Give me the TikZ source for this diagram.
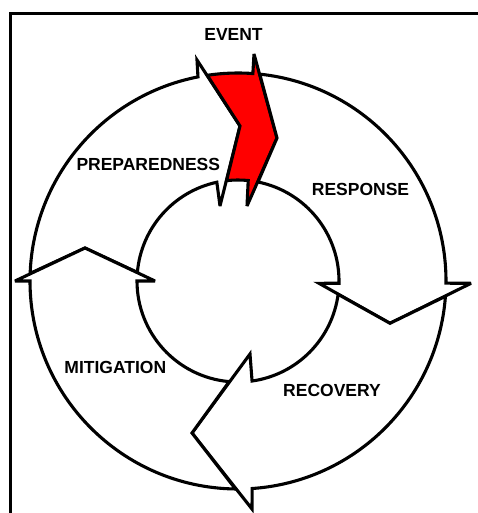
\documentclass[tikz,border=0pt]{standalone}
\usepackage{fontspec}
\setmainfont{Liberation Sans}
\usetikzlibrary{calc}
\begin{document}
\begin{tikzpicture}[x=1pt,y=-1pt,
  seg/.style={draw=black,line width=3.1pt,line join=miter,miter limit=4,fill=white},
  evt/.style={seg,fill=red},
  lbl/.style={font=\fontsize{17.5}{20}\selectfont\bfseries,inner sep=0pt,anchor=base}]
\useasboundingbox (0,0) rectangle (478,513);
\fill[white] (0,0) rectangle (478,513);
\draw[line width=3pt] (10,525) -- (10,14) -- (490,14);
\coordinate (C) at (238,281);
% head 1: preparedness (top left)
\coordinate (B1) at (197,60); \coordinate (A1) at (240,126); \coordinate (I1) at (220,206);
% head 2: event (top)
\coordinate (B2) at (254,54); \coordinate (A2) at (277,138); \coordinate (I2) at (247,206);
% head 3: response (right)
\coordinate (B3) at (471,283.3); \coordinate (A3) at (390,323.3); \coordinate (I3) at (319,283.3);
% head 4: recovery (bottom)
\coordinate (B4) at (252,509); \coordinate (A4) at (192,433); \coordinate (I4) at (250,354);
% head 5: mitigation (left)
\coordinate (B5) at (15,281); \coordinate (A5) at (85,248); \coordinate (I5) at (155,281);
% preparedness piece
\draw[seg] ($(C)+(182.1:208)$) arc[start angle=182.1,end angle=258.9,radius=208]
  -- (B1) -- (A1) -- (I1) -- ($(C)+(257.9:101)$)
  arc[start angle=257.9,end angle=184.9,radius=101] -- (A5) -- cycle;
% event piece
\draw[evt] ($(C)+(261.5:208)$) arc[start angle=261.5,end angle=274.1,radius=208]
  -- (B2) -- (A2) -- (I2) -- ($(C)+(275.8:101)$)
  arc[start angle=275.8,end angle=263.5,radius=101] -- (A1) -- cycle;
% response piece
\draw[seg] ($(C)+(276.0:208)$) arc[start angle=276.0,end angle=360.6,radius=208]
  -- (B3) -- (A3) -- (I3) -- ($(C)+(361.3:101)$)
  arc[start angle=361.3,end angle=281.4,radius=101] -- (A2) -- cycle;
% recovery piece
\draw[seg] ($(C)+(4.22:208)$) arc[start angle=4.22,end angle=86.1,radius=208]
  -- (B4) -- (A4) -- (I4) -- ($(C)+(82.0:101)$)
  arc[start angle=82.0,end angle=7.6,radius=101] -- (A3) -- cycle;
% mitigation piece
\draw[seg] ($(C)+(90.7:208)$) arc[start angle=90.7,end angle=180,radius=208]
  -- (B5) -- (A5) -- (I5) -- ($(C)+(180:101)$)
  arc[start angle=180,end angle=95.0,radius=101] -- (A4) -- cycle;
% labels
\node[lbl] (event) at (233.5,41) {EVENT};
\node[lbl] (prep) at (148.3,170) {PREPAREDNESS};
\node[lbl] (resp) at (360.5,195) {RESPONSE};
\node[lbl] (miti) at (115.3,373) {MITIGATION};
\node[lbl] (reco) at (332,396.5) {RECOVERY};
\end{tikzpicture}
\end{document}
